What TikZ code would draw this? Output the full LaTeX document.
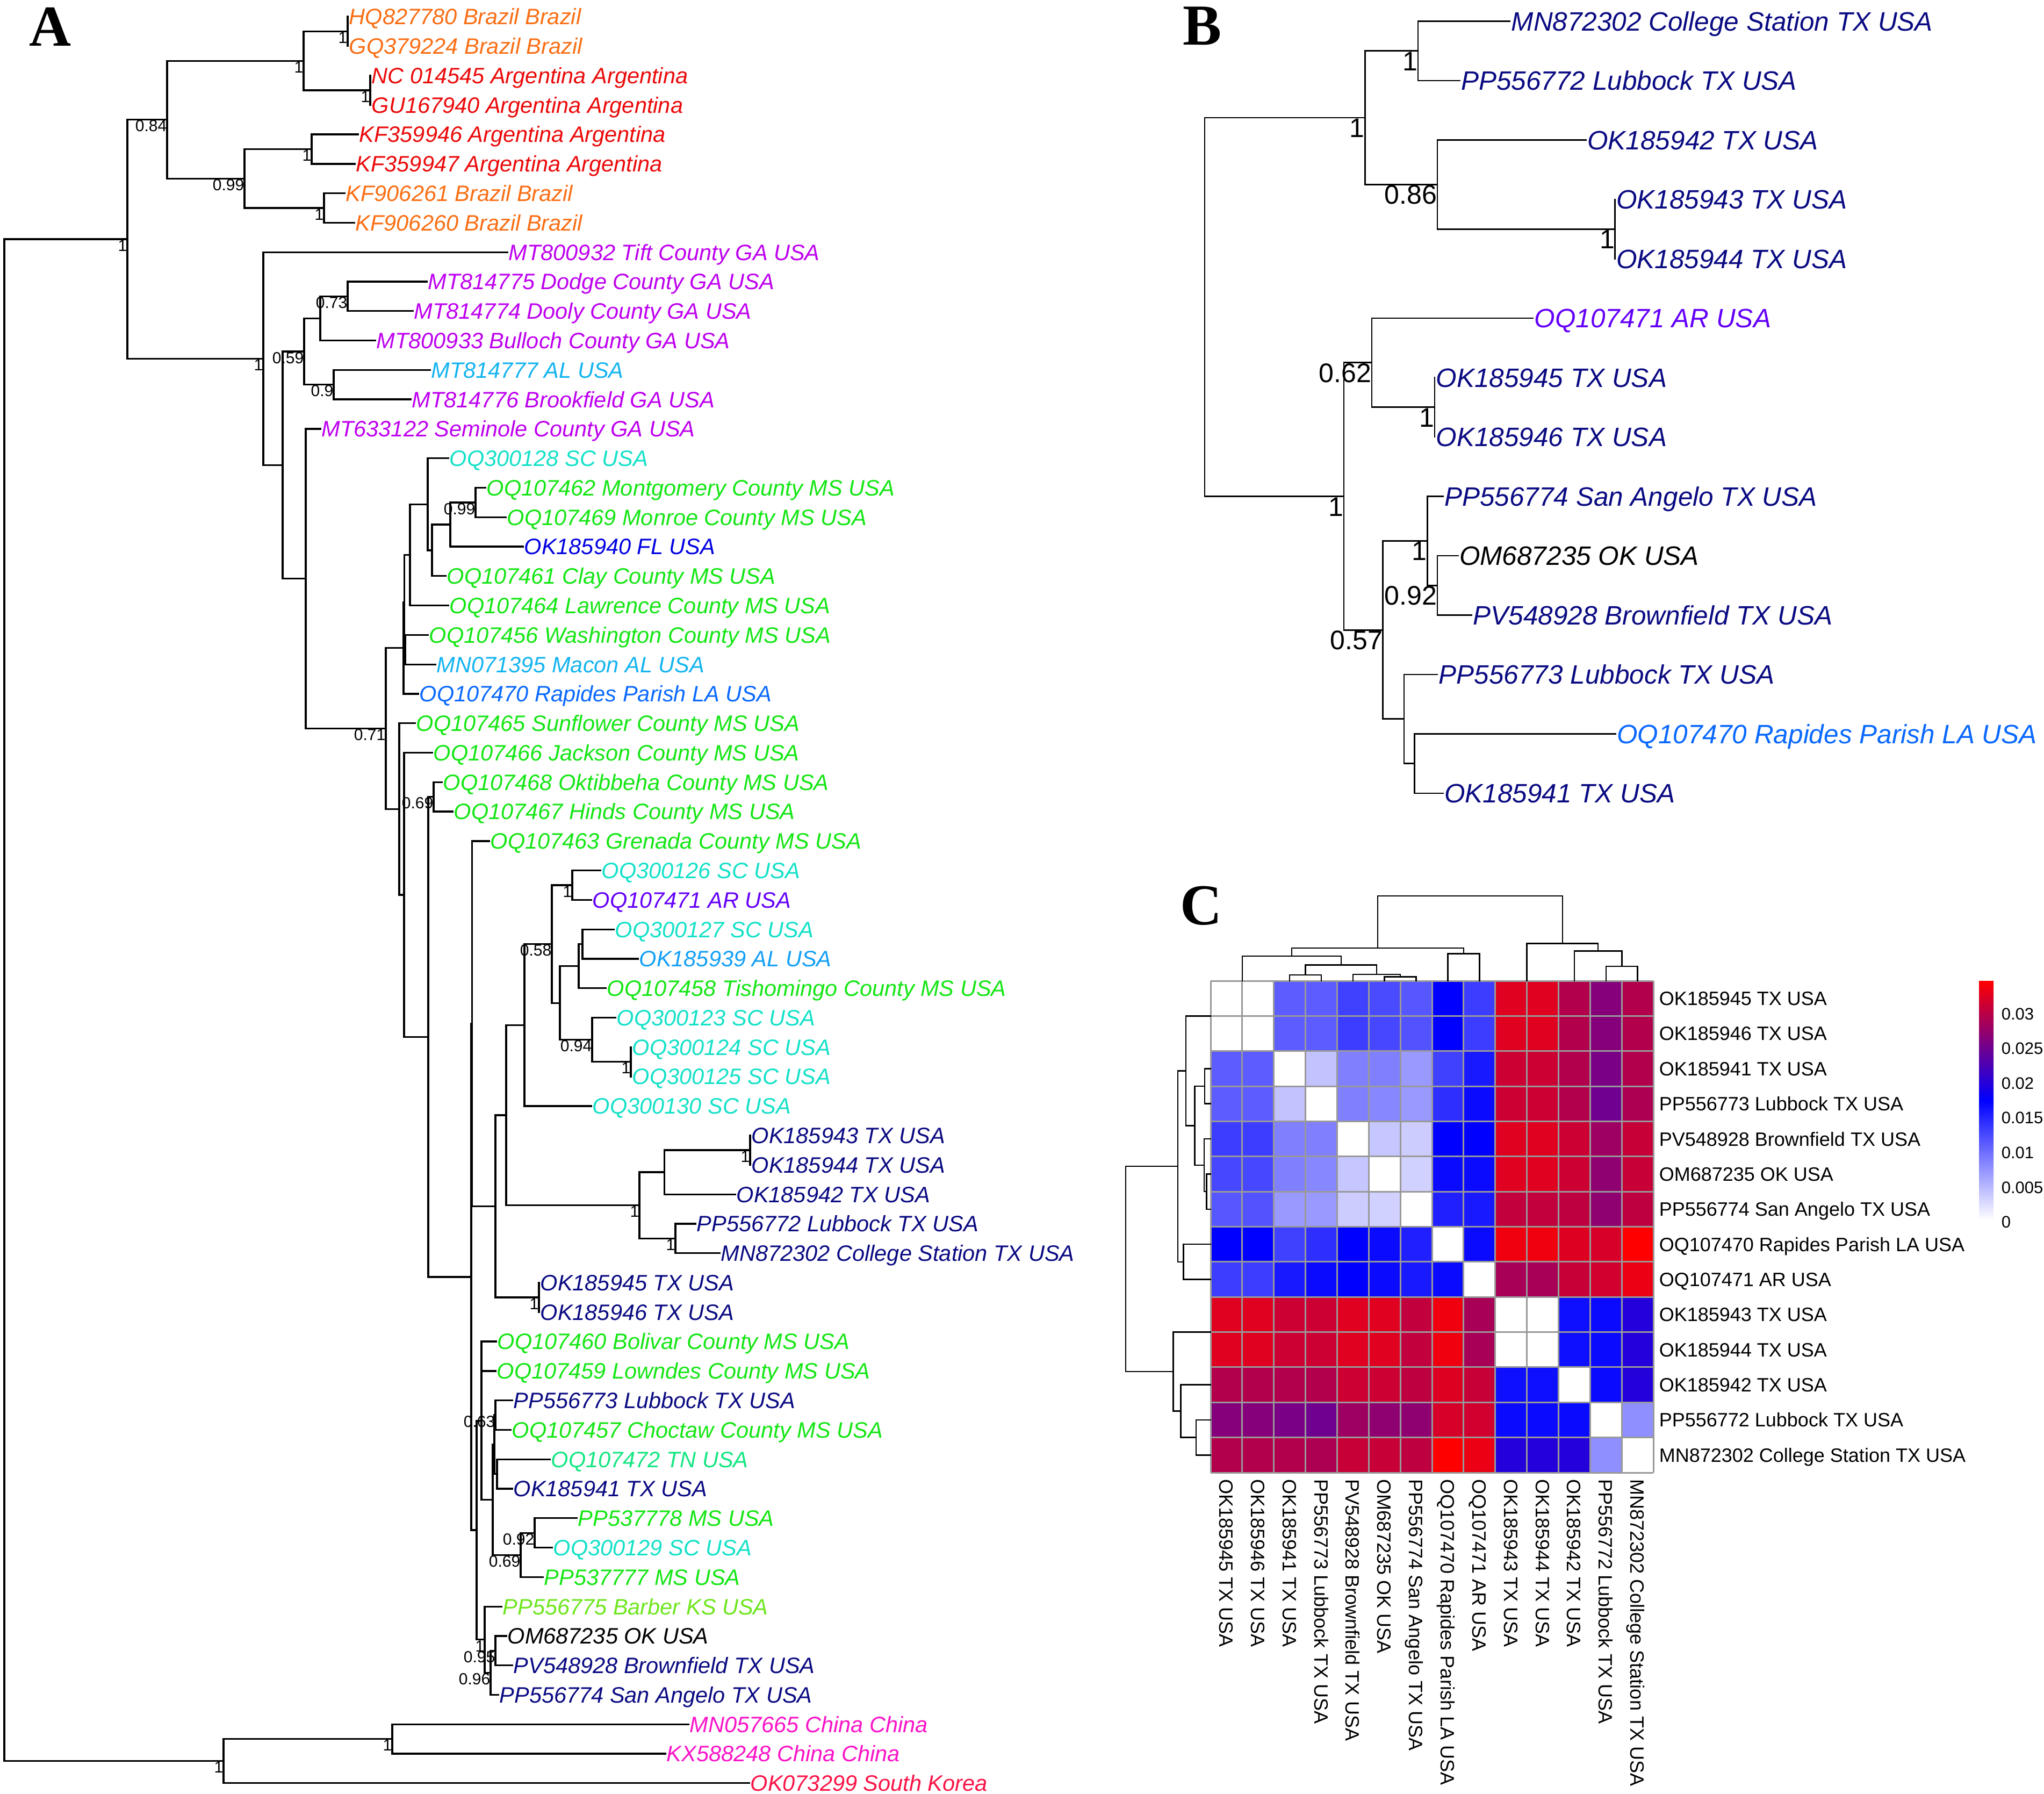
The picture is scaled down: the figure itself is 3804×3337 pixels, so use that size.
\documentclass[tikz,border=0pt]{standalone}
\usepackage{fontspec}
\setmainfont{Liberation Sans}
\newfontfamily\letterfont{Liberation Serif}
\definecolor{brazil}{RGB}{250,110,20}
\definecolor{argred}{RGB}{235,10,10}
\definecolor{gapurple}{RGB}{190,0,240}
\definecolor{alblue}{RGB}{20,180,240}
\definecolor{altblue}{RGB}{20,160,245}
\definecolor{scteal}{RGB}{20,225,200}
\definecolor{msgreen}{RGB}{20,230,20}
\definecolor{flblue}{RGB}{0,0,225}
\definecolor{lablue}{RGB}{10,105,255}
\definecolor{arpurple}{RGB}{100,0,250}
\definecolor{txnavy}{RGB}{10,10,130}
\definecolor{tngreen}{RGB}{20,230,130}
\definecolor{ksgreen}{RGB}{110,230,30}
\definecolor{chinapink}{RGB}{250,20,200}
\definecolor{korea}{RGB}{250,20,70}
\definecolor{gridgray}{RGB}{153,153,153}
\newcommand\fontA{\fontsize{11.81pt}{13pt}\selectfont\itshape}
\newcommand\fontAs{\fontsize{8.54pt}{10pt}\selectfont}
\newcommand\fontB{\fontsize{14.08pt}{16pt}\selectfont\itshape}
\newcommand\fontBs{\fontsize{14.23pt}{16pt}\selectfont}
\newcommand\fontC{\fontsize{10.24pt}{12pt}\selectfont}
\newcommand\fontL{\fontsize{8.82pt}{10pt}\selectfont}
\newcommand\fontLet{\fontsize{30.7pt}{32pt}\selectfont\letterfont\bfseries}
\newcommand\treeedges[3]{\foreach \kid in {#3} \draw[#1] (#2) |- (\kid);}
\tikzset{
  brA/.style={line width=0.033cm, line cap=rect},
  brB/.style={line width=0.028cm, line cap=rect},
  dend/.style={line width=0.025cm, line cap=rect},
  tipA/.style={anchor=west, inner xsep=0.02cm, inner ysep=0pt, text height=0.297cm, text depth=0pt, font=\fontA},
  tipB/.style={anchor=west, inner xsep=0.02cm, inner ysep=0pt, text height=0.354cm, text depth=0pt, font=\fontB},
  supA/.style={anchor=north east, inner sep=0pt, text height=0.215cm, text depth=0pt, font=\fontAs},
  supB/.style={anchor=north east, inner sep=0pt, text height=0.358cm, text depth=0pt, font=\fontBs},
  rowlab/.style={anchor=west, inner sep=0pt, text height=0.258cm, text depth=0pt, font=\fontC},
  collab/.style={rowlab, rotate=-90},
  leglab/.style={anchor=west, inner sep=0pt, text height=0.222cm, text depth=0pt, font=\fontL},
  letter/.style={anchor=base west, inner sep=0pt, font=\fontLet},
  hmgrid/.style={draw=gridgray, line width=0.03cm}
}
\begin{document}
\begin{tikzpicture}[x=0.01cm,y=-0.01cm]
\useasboundingbox (0,0) rectangle (3804,3337);
\fill[white] (0,0) rectangle (3804,3337);

% ---------------- Panel A ----------------
\node[letter] (LA) at (54,86) {A};
\foreach \tx/\c/\t [count=\k] in {
647/brazil/HQ827780 Brazil Brazil,
647/brazil/GQ379224 Brazil Brazil,
689/argred/NC 014545 Argentina Argentina,
689/argred/GU167940 Argentina Argentina,
666/argred/KF359946 Argentina Argentina,
660/argred/KF359947 Argentina Argentina,
641/brazil/KF906261 Brazil Brazil,
659/brazil/KF906260 Brazil Brazil,
944/gapurple/MT800932 Tift County GA USA,
794/gapurple/MT814775 Dodge County GA USA,
768/gapurple/MT814774 Dooly County GA USA,
698/gapurple/MT800933 Bulloch County GA USA,
800/alblue/MT814777 AL USA,
764/gapurple/MT814776 Brookfield GA USA,
596/gapurple/MT633122 Seminole County GA USA,
834/scteal/OQ300128 SC USA,
903/msgreen/OQ107462 Montgomery County MS USA,
941/msgreen/OQ107469 Monroe County MS USA,
973/flblue/OK185940 FL USA,
829/msgreen/OQ107461 Clay County MS USA,
834/msgreen/OQ107464 Lawrence County MS USA,
796/msgreen/OQ107456 Washington County MS USA,
810/alblue/MN071395 Macon AL USA,
778/lablue/OQ107470 Rapides Parish LA USA,
772/msgreen/OQ107465 Sunflower County MS USA,
804/msgreen/OQ107466 Jackson County MS USA,
822/msgreen/OQ107468 Oktibbeha County MS USA,
842/msgreen/OQ107467 Hinds County MS USA,
910/msgreen/OQ107463 Grenada County MS USA,
1117/scteal/OQ300126 SC USA,
1100/arpurple/OQ107471 AR USA,
1142/scteal/OQ300127 SC USA,
1187/altblue/OK185939 AL USA,
1127/msgreen/OQ107458 Tishomingo County MS USA,
1145/scteal/OQ300123 SC USA,
1174/scteal/OQ300124 SC USA,
1174/scteal/OQ300125 SC USA,
1100/scteal/OQ300130 SC USA,
1396/txnavy/OK185943 TX USA,
1396/txnavy/OK185944 TX USA,
1368/txnavy/OK185942 TX USA,
1294/txnavy/PP556772 Lubbock TX USA,
1339/txnavy/MN872302 College Station TX USA,
1003/txnavy/OK185945 TX USA,
1003/txnavy/OK185946 TX USA,
923/msgreen/OQ107460 Bolivar County MS USA,
922/msgreen/OQ107459 Lowndes County MS USA,
953/txnavy/PP556773 Lubbock TX USA,
950/msgreen/OQ107457 Choctaw County MS USA,
1023/tngreen/OQ107472 TN USA,
953/txnavy/OK185941 TX USA,
1073/msgreen/PP537778 MS USA,
1027/scteal/OQ300129 SC USA,
1010/msgreen/PP537777 MS USA,
933/ksgreen/PP556775 Barber KS USA,
942/black/OM687235 OK USA,
953/txnavy/PV548928 Brownfield TX USA,
927/txnavy/PP556774 San Angelo TX USA,
1281/chinapink/MN057665 China China,
1238/chinapink/KX588248 China China,
1394/korea/OK073299 South Korea}
  \node[tipA, text=\c] (a\k) at ({\tx},{31+54.78*(\k-1)}) {\t};

\coordinate (rootA) at (8,1860.88);
\coordinate (nTop) at (237,445.04);
\coordinate (n084) at (311,222.73);
\coordinate (nBA) at (565,113.17);
\coordinate (nHG) at (647,58.39);
\coordinate (nNG) at (689,167.95);
\coordinate (n099) at (455,332.29);
\coordinate (nKF1) at (580,277.51);
\coordinate (nKF2) at (603,387.07);
\coordinate (nGA) at (490,667.34);
\coordinate (nM) at (526,865.43);
\coordinate (n059) at (566,654.12);
\coordinate (nG2) at (596,592.50);
\coordinate (n073) at (647,551.41);
\coordinate (n09) at (621,715.75);
\coordinate (nC) at (569,1076.73);
\coordinate (n071) at (718,1355.54);
\coordinate (nN1) at (751,1205.78);
\coordinate (nN2) at (752.5,1120.61);
\coordinate (nN3) at (754,1208.77);
\coordinate (nB1) at (763,1032.45);
\coordinate (nD1) at (796,938.30);
\coordinate (nE1) at (804,1023.89);
\coordinate (nF1) at (838,975.96);
\coordinate (nG) at (885,934.87);
\coordinate (nA2) at (743,1505.30);
\coordinate (nH) at (752,1664.88);
\coordinate (nI) at (797,1929.26);
\coordinate (nJ) at (807,1482.67);
\coordinate (nK1) at (877,2375.84);
\coordinate (nK2) at (878.5,1904.65);
\coordinate (nR) at (922,2244.45);
\coordinate (nQ) at (942,2074.98);
\coordinate (nO) at (976,1907.21);
\coordinate (n058) at (1027,1756.57);
\coordinate (nS1) at (1065,1647.01);
\coordinate (nP) at (1042,1866.13);
\coordinate (nS3) at (1077,1797.66);
\coordinate (nS4) at (1084,1756.57);
\coordinate (n094) at (1102,1934.61);
\coordinate (nS5) at (1174,1975.69);
\coordinate (nTX) at (1190,2242.74);
\coordinate (nT42) at (1236.5,2181.12);
\coordinate (nT43) at (1396,2140.03);
\coordinate (nT72) at (1257,2304.37);
\coordinate (nOK45) at (1003,2413.93);
\coordinate (nWp) at (887,2847.03);
\coordinate (nV) at (896,2643.32);
\coordinate (nU) at (917,2790.54);
\coordinate (nS0) at (920,2687.83);
\coordinate (nS1b) at (922,2633.05);
\coordinate (nS2b) at (925,2742.61);
\coordinate (nT) at (969,2893.26);
\coordinate (n092) at (995,2852.17);
\coordinate (nW2) at (902,3050.75);
\coordinate (nY) at (913,3112.38);
\coordinate (nZ) at (922,3071.29);
\coordinate (nCK) at (416,3276.72);
\coordinate (nCH) at (730,3235.63);

\treeedges{brA}{rootA}{nTop,nCK}
\treeedges{brA}{nTop}{n084,nGA}
\treeedges{brA}{n084}{nBA,n099}
\treeedges{brA}{nBA}{nHG,nNG}
\treeedges{brA}{nHG}{a1.west,a2.west}
\treeedges{brA}{nNG}{a3.west,a4.west}
\treeedges{brA}{n099}{nKF1,nKF2}
\treeedges{brA}{nKF1}{a5.west,a6.west}
\treeedges{brA}{nKF2}{a7.west,a8.west}
\treeedges{brA}{nGA}{a9.west,nM}
\treeedges{brA}{nM}{n059,nC}
\treeedges{brA}{n059}{nG2,n09}
\treeedges{brA}{nG2}{n073,a12.west}
\treeedges{brA}{n073}{a10.west,a11.west}
\treeedges{brA}{n09}{a13.west,a14.west}
\treeedges{brA}{nC}{a15.west,n071}
\treeedges{brA}{n071}{nN1,nA2}
\treeedges{brA}{nN1}{nN2,a24.west}
\treeedges{brA}{nN2}{nB1,nN3}
\treeedges{brA}{nN3}{a22.west,a23.west}
\treeedges{brA}{nB1}{nD1,a21.west}
\treeedges{brA}{nD1}{a16.west,nE1}
\treeedges{brA}{nE1}{nF1,a20.west}
\treeedges{brA}{nF1}{nG,a19.west}
\treeedges{brA}{nG}{a17.west,a18.west}
\treeedges{brA}{nA2}{a25.west,nH}
\treeedges{brA}{nH}{a26.west,nI}
\treeedges{brA}{nI}{nJ,nK1}
\treeedges{brA}{nJ}{a27.west,a28.west}
\treeedges{brA}{nK1}{nK2,nWp}
\treeedges{brA}{nK2}{a29.west,nR}
\treeedges{brA}{nR}{nQ,nOK45}
\treeedges{brA}{nQ}{nO,nTX}
\treeedges{brA}{nO}{n058,a38.west}
\treeedges{brA}{n058}{nS1,nP}
\treeedges{brA}{nS1}{a30.west,a31.west}
\treeedges{brA}{nP}{nS3,n094}
\treeedges{brA}{nS3}{nS4,a34.west}
\treeedges{brA}{nS4}{a32.west,a33.west}
\treeedges{brA}{n094}{a35.west,nS5}
\treeedges{brA}{nS5}{a36.west,a37.west}
\treeedges{brA}{nTX}{nT42,nT72}
\treeedges{brA}{nT42}{nT43,a41.west}
\treeedges{brA}{nT43}{a39.west,a40.west}
\treeedges{brA}{nT72}{a42.west,a43.west}
\treeedges{brA}{nOK45}{a44.west,a45.west}
\treeedges{brA}{nWp}{nV,nW2}
\treeedges{brA}{nV}{a46.west,a47.west,nU}
\treeedges{brA}{nU}{nS0,nT}
\treeedges{brA}{nS0}{nS1b,nS2b}
\treeedges{brA}{nS1b}{a48.west,a49.west}
\treeedges{brA}{nS2b}{a50.west,a51.west}
\treeedges{brA}{nT}{n092,a54.west}
\treeedges{brA}{n092}{a52.west,a53.west}
\treeedges{brA}{nW2}{a55.west,nY}
\treeedges{brA}{nY}{nZ,a58.west}
\treeedges{brA}{nZ}{a56.west,a57.west}
\treeedges{brA}{nCK}{nCH,a61.west}
\treeedges{brA}{nCH}{a59.west,a60.west}

\foreach \x/\y/\t [count=\k] in {
237/445.04/1, 311/222.73/0.84, 565/113.17/1, 647/58.39/1, 689/167.95/1,
455/332.29/0.99, 580/277.51/1, 603/387.07/1, 490/667.34/1, 566/654.12/0.59,
647/551.41/0.73, 621/715.75/0.9, 885/934.87/0.99, 718/1355.54/0.71, 807/1482.67/0.69,
1065/1647.01/1, 1027/1756.57/0.58, 1102/1934.61/0.94, 1174/1975.69/1, 1190/2242.74/1,
1396/2140.03/1, 1257/2304.37/1, 1003/2413.93/1, 922/2633.05/0.63, 995/2852.17/0.92,
969/2893.26/0.69, 902/3050.75/1, 922/3071.29/0.95, 913/3112.38/0.96, 730/3235.63/1,
416/3276.72/1}
  \node[supA] (sa\k) at (\x,\y) {\t};

% ---------------- Panel B ----------------
\node[letter] (LB) at (2201,84) {B};
\foreach \tx/\ty/\c/\t [count=\k] in {
2810/39.5/txnavy/MN872302 College Station TX USA,
2716.5/150/txnavy/PP556772 Lubbock TX USA,
2951.6/260.5/txnavy/OK185942 TX USA,
3005.5/371/txnavy/OK185943 TX USA,
3005.5/481.5/txnavy/OK185944 TX USA,
2853/592/arpurple/OQ107471 AR USA,
2670/702.5/txnavy/OK185945 TX USA,
2670/813/txnavy/OK185946 TX USA,
2685.4/923.5/txnavy/PP556774 San Angelo TX USA,
2713.4/1034/black/OM687235 OK USA,
2739/1144.5/txnavy/PV548928 Brownfield TX USA,
2675/1255/txnavy/PP556773 Lubbock TX USA,
3006.5/1365.5/lablue/OQ107470 Rapides Parish LA USA,
2685.4/1476/txnavy/OK185941 TX USA}
  \node[tipB, text=\c] (b\k) at (\tx,\ty) {\t};

\coordinate (rootB) at (2242,571.3);
\coordinate (bN1) at (2540.4,219.06);
\coordinate (bN2) at (2639,94.75);
\coordinate (bN3) at (2675,343.38);
\coordinate (bN4) at (3005.5,426.25);
\coordinate (bN5) at (2501,923.5);
\coordinate (bN6) at (2553,674.88);
\coordinate (bN7) at (2670,757.75);
\coordinate (bN9) at (2573.6,1172.13);
\coordinate (bN10) at (2656.4,1006.38);
\coordinate (bN11) at (2675,1089.25);
\coordinate (bN12) at (2613,1337.88);
\coordinate (bN13) at (2632.6,1420.75);

\treeedges{brB}{rootB}{bN1,bN5}
\treeedges{brB}{bN1}{bN2,bN3}
\treeedges{brB}{bN2}{b1.west,b2.west}
\treeedges{brB}{bN3}{b3.west,bN4}
\treeedges{brB}{bN4}{b4.west,b5.west}
\treeedges{brB}{bN5}{bN6,bN9}
\treeedges{brB}{bN6}{b6.west,bN7}
\treeedges{brB}{bN7}{b7.west,b8.west}
\treeedges{brB}{bN9}{bN10,bN12}
\treeedges{brB}{bN10}{b9.west,bN11}
\treeedges{brB}{bN11}{b10.west,b11.west}
\treeedges{brB}{bN12}{b12.west,bN13}
\treeedges{brB}{bN13}{b13.west,b14.west}

\foreach \x/\y/\t [count=\k] in {
2540.4/219.06/1, 2639/94.75/1, 2675/343.38/0.86, 3005.5/426.25/1, 2501/923.5/1,
2553/674.88/0.62, 2670/757.75/1, 2573.6/1172.13/0.57, 2656.4/1006.38/1, 2675/1089.25/0.92}
  \node[supB] (sb\k) at (\x,\y) {\t};

% ---------------- Panel C ----------------
\node[letter] (LC) at (2196,1720) {C};
\def\hx{2253}\def\hy{1825}\def\cw{58.857}\def\chh{65.357}
\foreach \rowvals [count=\i] in {
{0,0,32,32,37.5,35.5,33,50,38,94,94,85,76,85},
{0,0,32,32,38,36,34,50,38,94,94,85,76,85},
{32,32,0,12,25,25,20,37.5,45,90,90,85,74,85},
{32,32,12,0,25,23.5,20,41,48,90,90,85,72,84},
{38,38,25,25,0,11,10,50,50,94,94,90,81,89},
{36,36,25,23.5,11,0,9,48,48,94,94,90,78,89},
{33,34,20,20,10,9,0,44,45,88,88,87.5,78,87.5},
{50,50,37.5,41,50,48,44,0,48,97,97,93.5,92,100},
{38,38,45,48,50,48,45,48,0,83,83,89,91,96},
{94,94,90,90,94,94,88,97,83,0,0,47,48,57},
{94,94,90,90,94,94,88,97,83,0,0,47,48,57},
{85,85,85,85,90,90,87.5,93.5,89,47,47,0,48,57},
{76,76,74,72,81,78,78,92,91,48,48,48,0,22},
{85,85,85,84,89,89,87.5,100,96,57,57,57,22,0}}{
  \foreach \v [count=\j] in \rowvals {
    \ifdim\v pt>50pt
      \pgfmathsetmacro\pp{2*\v-100}
      \colorlet{cellc}{red!\pp!blue}
    \else
      \pgfmathsetmacro\pp{2*\v}
      \colorlet{cellc}{blue!\pp!white}
    \fi
    \fill[cellc] ({\hx+(\j-1)*\cw},{\hy+(\i-1)*\chh}) rectangle ++(\cw,\chh);
  }
}
\foreach \k in {0,...,14} {
  \draw[hmgrid] ({\hx+\k*\cw},\hy) -- ++(0,915);
  \draw[hmgrid] (\hx,{\hy+\k*\chh}) -- ++(824,0);
}

\foreach \t [count=\k] in {OK185945 TX USA, OK185946 TX USA, OK185941 TX USA,
PP556773 Lubbock TX USA, PV548928 Brownfield TX USA, OM687235 OK USA,
PP556774 San Angelo TX USA, OQ107470 Rapides Parish LA USA, OQ107471 AR USA,
OK185943 TX USA, OK185944 TX USA, OK185942 TX USA, PP556772 Lubbock TX USA,
MN872302 College Station TX USA} {
  \node[rowlab] (cr\k) at (3087,{1825+(\k-0.5)*65.357}) {\t};
  \node[collab] (cc\k) at ({2253+(\k-0.5)*58.857},2752) {\t};
}

% column dendrogram
\draw[dend] (2563.8,1764) -- (2563.8,1667) -- (2907.8,1667) -- (2907.8,1755.5);
\draw[dend] (2403.8,1779) -- (2403.8,1764) -- (2723.9,1764) -- (2723.9,1774.5);
\draw[dend] (2694.4,1825) -- (2694.4,1774.5) -- (2753.3,1774.5) -- (2753.3,1825);
\draw[dend] (2311.9,1825) -- (2311.9,1779) -- (2495.8,1779) -- (2495.8,1795.5);
\draw[dend] (2429.6,1814) -- (2429.6,1795.5) -- (2562.0,1795.5) -- (2562.0,1813);
\draw[dend] (2400.1,1825) -- (2400.1,1814) -- (2459.0,1814) -- (2459.0,1825);
\draw[dend] (2517.9,1825) -- (2517.9,1813) -- (2606.2,1813) -- (2606.2,1817.5);
\draw[dend] (2576.7,1825) -- (2576.7,1817.5) -- (2635.6,1817.5) -- (2635.6,1825);
\draw[dend] (2841.5,1825) -- (2841.5,1755.5) -- (2974.0,1755.5) -- (2974.0,1769.5);
\draw[dend] (2929.9,1825) -- (2929.9,1769.5) -- (3018.2,1769.5) -- (3018.2,1798);
\draw[dend] (2988.7,1825) -- (2988.7,1798) -- (3047.6,1798) -- (3047.6,1825);
% row dendrogram
\draw[dend] (2192,2170.2) -- (2095,2170.2) -- (2095,2552.1) -- (2183.5,2552.1);
\draw[dend] (2207,1992.5) -- (2192,1992.5) -- (2192,2347.9) -- (2202.5,2347.9);
\draw[dend] (2253,2315.2) -- (2202.5,2315.2) -- (2202.5,2380.5) -- (2253,2380.5);
\draw[dend] (2253,1890.4) -- (2207,1890.4) -- (2207,2094.6) -- (2223.5,2094.6);
\draw[dend] (2242,2021) -- (2223.5,2021) -- (2223.5,2168.1) -- (2241,2168.1);
\draw[dend] (2253,1988.4) -- (2242,1988.4) -- (2242,2053.7) -- (2253,2053.7);
\draw[dend] (2253,2119.1) -- (2241,2119.1) -- (2241,2217.2) -- (2245.5,2217.2);
\draw[dend] (2253,2184.5) -- (2245.5,2184.5) -- (2245.5,2249.8) -- (2253,2249.8);
\draw[dend] (2253,2478.6) -- (2183.5,2478.6) -- (2183.5,2625.6) -- (2197.5,2625.6);
\draw[dend] (2253,2576.6) -- (2197.5,2576.6) -- (2197.5,2674.6) -- (2226,2674.6);
\draw[dend] (2253,2641.9) -- (2226,2641.9) -- (2226,2707.3) -- (2253,2707.3);

% colour key
\shade[top color=red, bottom color=white, middle color=blue] (3683,1825) rectangle (3710,2270);
\foreach \t [count=\k] in {0,0.005,0.01,0.015,0.02,0.025,0.03}
  \node[leglab] (lg\k) at (3724,{2273.5-(\k-1)*64.6}) {\t};
\end{tikzpicture}
\end{document}
